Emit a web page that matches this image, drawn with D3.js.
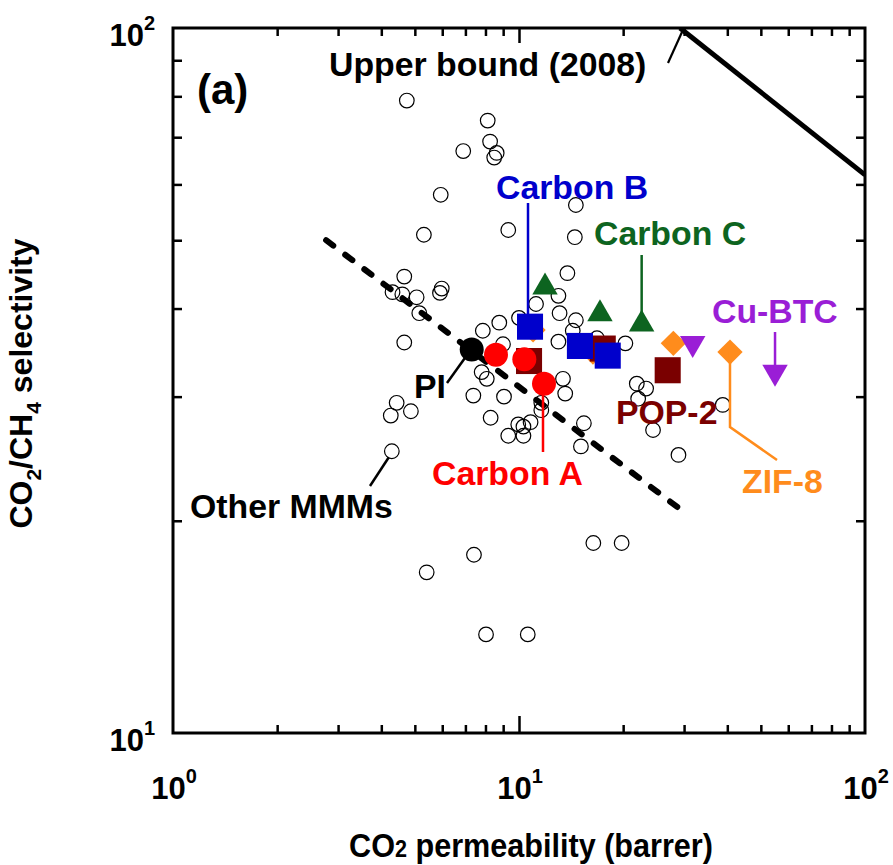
<!DOCTYPE html>
<html>
<head>
<meta charset="utf-8">
<script src="https://cdn.jsdelivr.net/npm/d3@7"></script>
<style>
  html, body { margin: 0; padding: 0; background: #fff; }
  svg { display: block; font-family: "Liberation Sans", Arial, sans-serif; font-weight: bold; }
</style>
</head>
<body>
<div id="chart"></div>
<script>
// CO2/CH4 selectivity vs CO2 permeability, log-log

// ── Data (permeability in barrer, selectivity) ─────────────────────────────
const otherMMMs = [
  [4.74, 78.9], [8.12, 73.9], [8.25, 69.0], [6.90, 66.9], [8.62, 66.5], [8.48, 65.5],
  [5.94, 58.0], [14.6, 56.1], [9.31, 51.7], [5.31, 50.9], [14.5, 50.5], [13.8, 44.9],
  [4.66, 44.4], [4.31, 42.2], [4.60, 41.9], [5.06, 41.5], [5.98, 42.7], [5.91, 42.1],
  [5.15, 39.4], [4.66, 35.8], [8.77, 38.2], [7.86, 37.2], [11.2, 40.6], [13.1, 39.4],
  [13.0, 41.7], [13.0, 35.9], [13.4, 31.8], [13.6, 30.3], [7.80, 32.5], [8.07, 31.8],
  [8.99, 35.6], [7.38, 30.1], [9.05, 30.0], [11.6, 29.4], [11.6, 28.7], [4.43, 29.4],
  [4.26, 28.2], [4.87, 28.6], [8.28, 28.0], [9.95, 27.4], [10.3, 27.2], [10.8, 27.6],
  [9.31, 26.4], [10.3, 26.4], [4.29, 25.1], [10.0, 38.8], [14.6, 38.5], [14.3, 37.2],
  [16.8, 36.3], [20.3, 35.7], [21.9, 31.3], [23.3, 30.8], [22.1, 29.8], [15.4, 27.5],
  [15.1, 25.5], [24.4, 26.9], [38.8, 29.2], [28.9, 24.8], [7.41, 17.9], [16.4, 18.6],
  [19.8, 18.6], [5.41, 16.9], [8.03, 13.8], [10.6, 13.8]
];
const pi      = [[7.30, 35.0]];
const carbonA = [[8.58, 34.4], [10.36, 33.9], [11.81, 31.3]];
const carbonB = [[10.76, 37.7], [15.0, 35.4], [18.05, 34.3]];
const carbonC = [[11.89, 42.9], [17.14, 39.3], [22.62, 38.0]];
const pop2    = [[10.69, 33.7], [17.46, 35.1], [26.9, 32.7]];
const zif8    = [[10.98, 37.3], [16.36, 34.7], [27.93, 35.7], [40.72, 34.7]];
const cuBTC   = [[31.77, 35.7], [54.95, 32.5]];
const upperBound = [[29.2, 100], [100, 61.9]];
const trendLine  = [[2.77, 50.0], [29.5, 20.7]];

const xMinor = [2, 3, 4, 5, 6, 7, 8, 9, 20, 30, 40, 50, 60, 70, 80, 90];
const yMinor = [20, 30, 40, 50, 60, 70, 80, 90];
const xMajor = [1, 10, 100];
const yMajor = [10, 100];

// ── Layout ────────────────────────────────────────────────────────────────
const W = 893, H = 865;
const M = { left: 173, top: 28, right: 28, bottom: 132 };

const svg = d3.select("#chart").append("svg")
  .attr("width", W).attr("height", H).attr("viewBox", `0 0 ${W} ${H}`);

const x = d3.scaleLog().domain([1, 100]).range([M.left, W - M.right]);
const y = d3.scaleLog().domain([10, 100]).range([H - M.bottom, M.top]);

const COL = {
  a: "#ff0000", b: "#0000cc", c: "#0d6420", pop: "#7a0000",
  zif: "#ff8c1c", cu: "#9a1ed6", k: "#000"
};

// clip for data lines
svg.append("defs").append("clipPath").attr("id", "plotClip")
  .append("rect").attr("x", M.left).attr("y", M.top)
  .attr("width", W - M.left - M.right).attr("height", H - M.top - M.bottom);

// ── Ticks (inward, all four sides) ─────────────────────────────────────────
function ticks(axis, tr, vals, len) {
  svg.append("g").attr("transform", tr)
    .call(axis.tickValues(vals).tickSize(-len).tickFormat(""))
    .call(g => g.select(".domain").remove())
    .call(g => g.selectAll("line").attr("stroke", "#000").attr("stroke-width", 2.5));
}
const bY = H - M.bottom, rX = W - M.right;
ticks(d3.axisBottom(x), `translate(0,${bY})`, xMinor, 8);
ticks(d3.axisBottom(x), `translate(0,${bY})`, [10], 17);
ticks(d3.axisTop(x),    `translate(0,${M.top})`, xMinor, 8);
ticks(d3.axisTop(x),    `translate(0,${M.top})`, [10], 15);
ticks(d3.axisLeft(y),   `translate(${M.left},0)`, yMinor, 9);
ticks(d3.axisRight(y),  `translate(${rX},0)`, yMinor, 9);

svg.append("rect")
  .attr("x", M.left).attr("y", M.top)
  .attr("width", rX - M.left).attr("height", bY - M.top)
  .attr("fill", "none").attr("stroke", "#000").attr("stroke-width", 3);

// power-of-ten labels
function powLabel(px, py, exp, anchor) {
  const t = svg.append("text").attr("x", px).attr("y", py)
    .attr("text-anchor", anchor).attr("font-size", 31).attr("fill", "#000");
  t.append("tspan").text("10");
  t.append("tspan").attr("font-size", 20).attr("dy", -16).text(exp);
}
xMajor.forEach(v => powLabel(x(v) + 1, bY + 66, Math.round(Math.log10(v)), "middle"));
yMajor.forEach(v => powLabel(M.left - 18, y(v) + 18, Math.round(Math.log10(v)), "end"));

// axis titles (slightly condensed, like the original)
const xt = svg.append("text")
  .attr("transform", `translate(531,${H - 8}) scale(0.9,1)`)
  .attr("text-anchor", "middle").attr("font-size", 34);
xt.append("tspan").text("CO");
xt.append("tspan").attr("font-size", 24).text("2");
xt.append("tspan").text(" permeability (barrer)");

const yt = svg.append("text")
  .attr("transform", `translate(32,${(M.top + bY) / 2 + 3}) rotate(-90)`)
  .attr("text-anchor", "middle").attr("font-size", 32);
yt.append("tspan").text("CO");
yt.append("tspan").attr("font-size", 21).attr("dy", 9).text("2");
yt.append("tspan").attr("dy", -9).text("/CH");
yt.append("tspan").attr("font-size", 21).attr("dy", 9).text("4");
yt.append("tspan").attr("dy", -9).text(" selectivity");

// ── Marks ─────────────────────────────────────────────────────────────────
const plot = svg.append("g").attr("clip-path", "url(#plotClip)");
const line = d3.line().x(d => x(d[0])).y(d => y(d[1]));

plot.append("path").datum(upperBound).attr("d", line)
  .attr("fill", "none").attr("stroke", "#000").attr("stroke-width", 5);

plot.append("g").selectAll("circle").data(otherMMMs).join("circle")
  .attr("cx", d => x(d[0])).attr("cy", d => y(d[1])).attr("r", 7.3)
  .attr("fill", "none").attr("stroke", "#000").attr("stroke-width", 1.2);

plot.append("path").datum(trendLine).attr("d", line)
  .attr("fill", "none").attr("stroke", "#000").attr("stroke-width", 6)
  .attr("stroke-dasharray", "9 15").attr("stroke-linecap", "round");

function symbols(data, type, size, color, rot) {
  plot.append("g").selectAll("path").data(data).join("path")
    .attr("d", d3.symbol().type(type).size(size))
    .attr("transform", d => `translate(${x(d[0])},${y(d[1])}) rotate(${rot || 0})`)
    .attr("fill", color);
}
symbols(zif8, d3.symbolSquare, 320, COL.zif, 45);
symbols(pop2, d3.symbolSquare, 680, COL.pop);
symbols(cuBTC, d3.symbolTriangle, 280, COL.cu, 180);
symbols(carbonC, d3.symbolTriangle, 280, COL.c);
symbols(carbonB, d3.symbolSquare, 680, COL.b);
plot.append("g").selectAll("circle").data(carbonA).join("circle")
  .attr("cx", d => x(d[0])).attr("cy", d => y(d[1])).attr("r", 12).attr("fill", COL.a);
plot.append("g").selectAll("circle").data(pi).join("circle")
  .attr("cx", d => x(d[0])).attr("cy", d => y(d[1])).attr("r", 12).attr("fill", COL.k);

// ── Annotations ───────────────────────────────────────────────────────────
function label(txt, px, py, color, size) {
  svg.append("text").attr("x", px).attr("y", py).attr("fill", color)
    .attr("font-size", size || 33.8).text(txt);
}
function leader(pts, color, w) {
  svg.append("path").attr("d", d3.line()(pts))
    .attr("fill", "none").attr("stroke", color).attr("stroke-width", w || 2.5);
}

label("(a)", 197, 104, COL.k, 42);
label("Upper bound (2008)", 329, 76, COL.k);
leader([[668, 63], [x(upperBound[0][0]) + 2, M.top + 4]], COL.k, 2.2);

label("Carbon B", 496, 199, COL.b);
leader([[x(carbonB[0][0]) - 2, 203], [x(carbonB[0][0]) - 2, y(carbonB[0][1]) - 12]], COL.b);

label("Carbon C", 594, 245, COL.c);
leader([[x(carbonC[2][0]), 255], [x(carbonC[2][0]), y(carbonC[2][1]) - 10]], COL.c);

label("Cu-BTC", 712, 323, COL.cu);
leader([[x(cuBTC[1][0]), 332], [x(cuBTC[1][0]), y(cuBTC[1][1])]], COL.cu);

label("POP-2", 616, 424, COL.pop);

label("ZIF-8", 742, 493, COL.zif);
leader([[x(zif8[3][0]), y(zif8[3][1])], [x(zif8[3][0]), 427], [777, 460]], COL.zif);

label("Carbon A", 432, 485, COL.a);
leader([[x(carbonA[2][0]) - 1, y(carbonA[2][1])], [x(carbonA[2][0]) - 1, 452]], COL.a);

label("PI", 414, 398, COL.k);
leader([[447, 383], [x(pi[0][0]) - 5, y(pi[0][1]) + 6]], COL.k);

label("Other MMMs", 190, 518, COL.k);
leader([[370, 486], [x(otherMMMs[44][0]) - 3, y(otherMMMs[44][1]) + 6]], COL.k);
</script>
</body>
</html>
